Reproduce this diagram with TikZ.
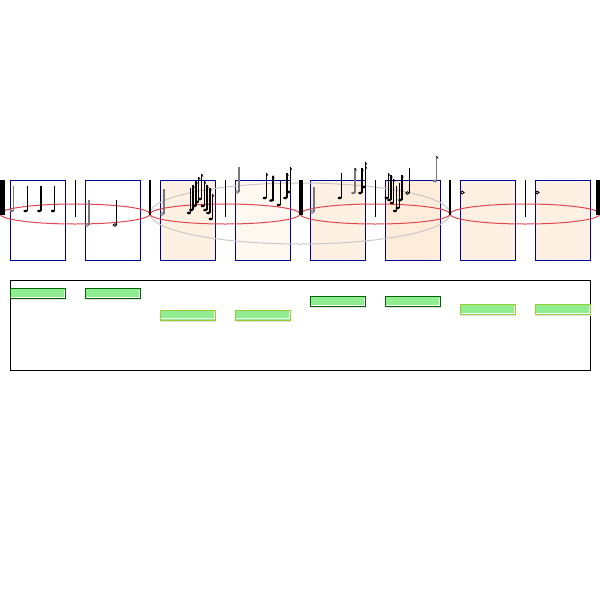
\documentclass[tikz,border=0pt]{standalone}
\definecolor{boxblue}{RGB}{0,0,153}
\definecolor{ellred}{RGB}{222,70,80}
\definecolor{ellgray}{RGB}{200,200,200}
\definecolor{fillA}{RGB}{254,241,227}
\definecolor{fillB}{RGB}{255,248,241}
\definecolor{fillC}{RGB}{255,236,218}
\definecolor{barfill}{RGB}{144,238,144}
\definecolor{darkgr}{RGB}{0,100,0}
\definecolor{yelgr}{RGB}{154,205,50}
\definecolor{stemgray}{RGB}{120,120,120}
\newcommand\mynt[4]{% x, head y, top y, colour
  \draw[stemline,#4] (#1,#3) -- (#1,#2);
  \fill[#4] (#1-1.8,#2) ellipse [x radius=2, y radius=1.3];}
\newcommand\myhn[4]{%
  \draw[stemline,#4] (#1,#3) -- (#1,#2);
  \draw[#4,line width=0.8pt] (#1-1.8,#2) ellipse [x radius=1.8, y radius=1.3];}
\newcommand\myfl[2]{\draw[line width=0.7pt] (#1,#2) -- ++(1.4,2.6);}
\begin{document}
\begin{tikzpicture}[x=1pt,y=-1pt,
  mbox/.style={draw=boxblue,line width=1pt},
  redell/.style={draw=ellred,line width=1pt},
  grayell/.style={draw=ellgray,line width=1pt},
  stemline/.style={line width=1.1pt},
  gbar/.style={fill=barfill,line width=1pt}]
\useasboundingbox (0,0) rectangle (600,600);
% measure boxes
\draw[mbox,fill=white] (10,180) rectangle (65,260);
\draw[mbox,fill=white] (85,180) rectangle (140,260);
\draw[mbox,fill=fillA] (160,180) rectangle (215,260);
\draw[mbox,fill=fillB] (235,180) rectangle (290,260);
\draw[mbox,fill=fillA] (310,180) rectangle (365,260);
\draw[mbox,fill=fillC] (385,180) rectangle (440,260);
\draw[mbox,fill=fillA] (460,180) rectangle (515,260);
\draw[mbox,fill=fillA] (535,180) rectangle (590,260);
% ellipses
\draw[grayell] (300,213.5) ellipse [x radius=150, y radius=30.5];
\foreach \cx in {75,225,375,525}
  \draw[redell] (\cx,214) ellipse [x radius=75, y radius=10];
% bar lines
\fill (0,180) rectangle (5,215);
\fill (149.3,180) rectangle (151.3,215);
\fill (298.5,180) rectangle (302.5,215);
\fill (449,180) rectangle (451,215);
\fill (596,180) rectangle (600,215);
\foreach \bx in {75,225,375,525}
  \draw[line width=1pt] (\bx,180) -- (\bx,217);
% measure 1
\mynt{13.3}{211}{186}{stemgray}
\mynt{27.3}{211}{186}{black}
\mynt{41}{211}{186}{black}
\mynt{54.7}{211}{186}{black}
% measure 2
\myhn{89}{225}{200}{stemgray}
\myhn{116.7}{225}{200}{black}
% measure 3
\myhn{164}{214}{189}{stemgray}
\mynt{190.7}{213}{188}{black}
\mynt{193}{210}{185}{black}
\mynt{196}{206}{181}{black}
\mynt{198.7}{202}{177}{black}
\mynt{201.7}{199}{174}{black}
\mynt{204.5}{206}{181}{black}
\mynt{207}{210}{185}{black}
\mynt{210}{213}{188}{black}
\mynt{212.5}{219}{194}{black}
\myfl{193}{185}\myfl{196}{181}\myfl{198.7}{177}\myfl{201.7}{174}\myfl{204.5}{181}\myfl{207}{185}\myfl{210}{188}\myfl{212.5}{194}
% measure 4
\myhn{239}{192}{167}{stemgray}
\mynt{266.5}{198}{173}{black}
\mynt{273}{200.5}{175.5}{black}
\mynt{280.5}{205}{181}{black}
\mynt{287}{198}{173}{black}
\mynt{290.3}{192}{167}{black}
\myfl{266.5}{173}\myfl{273}{175.5}\myfl{287}{173}\myfl{290.3}{167}
% measure 5
\myhn{314}{212}{187}{stemgray}
\mynt{341.5}{198}{173}{black}
\mynt{355}{193}{168}{stemgray}
\mynt{362}{193}{168}{black}
\mynt{365.5}{187}{162}{black}
\myfl{355}{168}\myfl{362}{168}\myfl{365.5}{162}\myfl{365.5}{166}
% measure 6
\mynt{388.3}{198}{173}{black}
\mynt{391}{200}{175}{black}
\mynt{393.7}{203}{179}{black}
\mynt{396.7}{211}{186}{black}
\mynt{399.3}{208}{183}{black}
\mynt{402}{200}{175}{black}
\myhn{409.3}{193}{168}{black}
\mynt{436.7}{181}{156}{stemgray}
\myfl{388.3}{173}\myfl{391}{175}\myfl{393.7}{179}\myfl{402}{175}\myfl{436.7}{156}
% measures 7, 8 (whole notes)
\draw[line width=0.8pt] (462.3,192.5) ellipse [x radius=1.8, y radius=1.4];
\draw[line width=0.8pt] (537.3,192.5) ellipse [x radius=1.8, y radius=1.4];
% lower panel
\draw[line width=1pt] (10,280) rectangle (590,370);
\foreach \xa/\ya/\col in {10/288.5/darkgr,85/288.5/darkgr,160/310/yelgr,235/310/yelgr,310/296.5/darkgr,385/296.5/darkgr,460/304.5/yelgr,535/304.5/yelgr}{
  \fill[black!12] (\xa+0.5,\ya+10.5) rectangle (\xa+55.5,\ya+11.5);
  \draw[gbar,draw=\col] (\xa,\ya) rectangle (\xa+55.5,\ya+10);
  \draw[white,line width=0.8pt] (\xa+1,\ya+8.8) -- (\xa+54.3,\ya+8.8) -- (\xa+54.3,\ya+1);
}
\end{tikzpicture}
\end{document}
